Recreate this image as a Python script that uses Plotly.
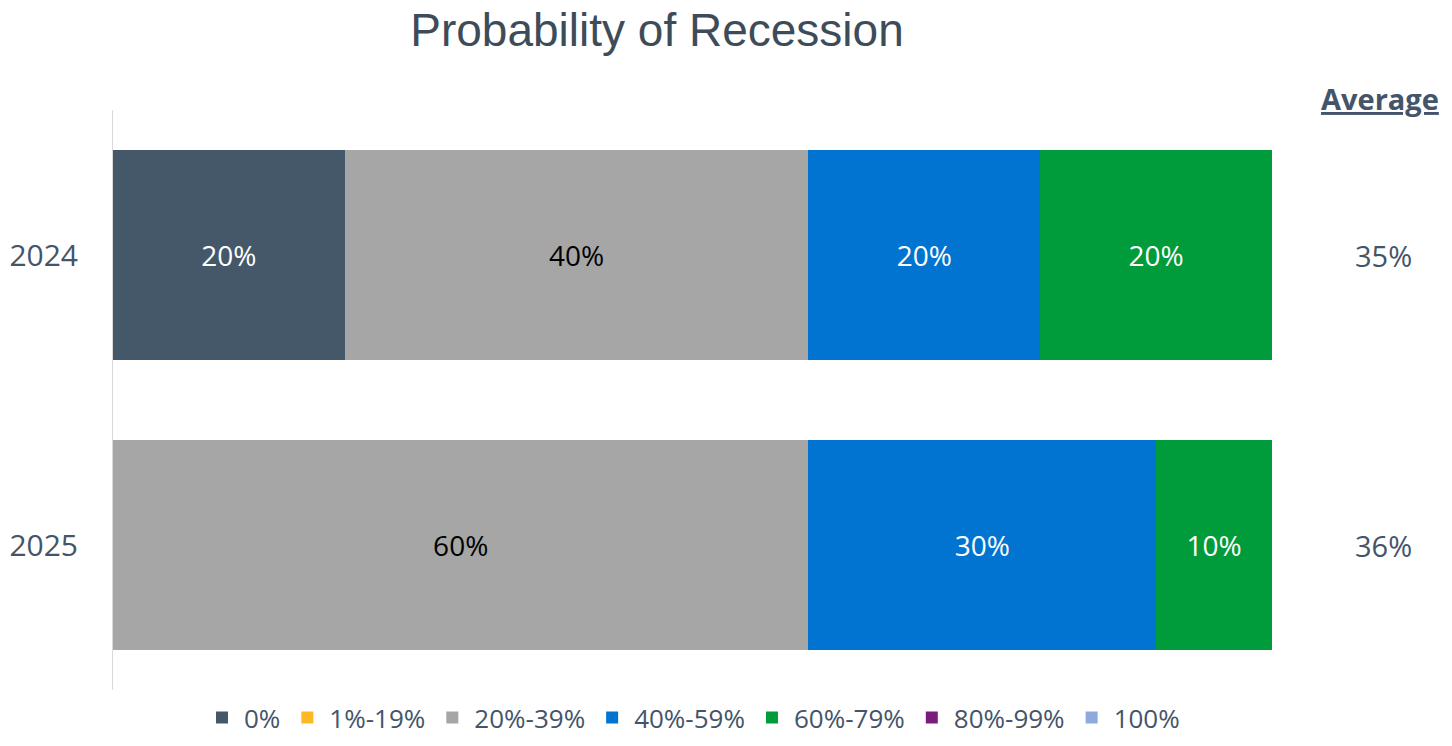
import plotly.graph_objects as go

years = ["2024", "2025"]
series_names = ["0%", "1%-19%", "20%-39%", "40%-59%", "60%-79%", "80%-99%", "100%"]
values = {
    "0%": [20, 0],
    "1%-19%": [0, 0],
    "20%-39%": [40, 60],
    "40%-59%": [20, 30],
    "60%-79%": [20, 10],
    "80%-99%": [0, 0],
    "100%": [0, 0],
}
averages = ["35%", "36%"]

colors = {
    "0%": "#44586A",
    "1%-19%": "#FDB924",
    "20%-39%": "#A6A6A6",
    "40%-59%": "#0074D0",
    "60%-79%": "#009B3A",
    "80%-99%": "#7A1C79",
    "100%": "#8EA9DB",
}
text_colors = {
    "0%": "white", "1%-19%": "black", "20%-39%": "black", "40%-59%": "white",
    "60%-79%": "white", "80%-99%": "white", "100%": "black",
}

# page body has an 8px default margin, so the figure is drawn 8px in from the top-left
OFF = 8
W, H = 1452 - 2 * OFF, 746 - 2 * OFF
PL, PR, PT, PB = 113, 1272, 110, 690  # plot area in screenshot pixels

fig = go.Figure()
for name in series_names:
    vals = values[name]
    fig.add_trace(go.Bar(
        name=name,
        y=years,
        x=vals,
        orientation="h",
        marker=dict(color=colors[name], line=dict(width=0)),
        text=[f"{v}%" if v > 0 else "" for v in vals],
        textposition="inside",
        insidetextanchor="middle",
        textangle=0,
        textfont=dict(family="Open Sans", size=28, color=text_colors[name]),
        hoverinfo="skip",
    ))

fig.update_layout(
    barmode="stack",
    bargap=0.276,
    width=W, height=H,
    margin=dict(l=PL - OFF, r=W - (PR - OFF), t=PT - OFF, b=H - (PB - OFF), autoexpand=False),
    paper_bgcolor="white",
    plot_bgcolor="white",
    title=dict(
        text="Probability of Recession",
        x=(657 - OFF) / W, xanchor="center",
        y=1 - (30 - OFF) / H, yanchor="middle",
        font=dict(family="Liberation Sans", size=46, color="#3E4C5A"),
    ),
    xaxis=dict(range=[0, 100], showgrid=False, zeroline=False, showticklabels=False,
               showline=False, fixedrange=True, automargin=False),
    yaxis=dict(type="category", categoryorder="array", categoryarray=years,
               range=[1.5, -0.5], showgrid=False, zeroline=False,
               showline=True, linecolor="#D9D9D9", linewidth=1, automargin=False,
               ticks="", ticklabelstandoff=28,
               tickfont=dict(family="Open Sans", size=30, color="#44546A")),
    legend=dict(
        orientation="h", x=0.5, xanchor="center",
        y=-(735 - 690) / 580 + 0.03, yanchor="middle",
        font=dict(family="Open Sans", size=26, color="#44546A"),
        traceorder="normal", itemwidth=34,
    ),
    showlegend=True,
)

fig.add_annotation(
    text="<b><u>Average</u></b>", xref="paper", yref="paper",
    x=(1380 - PL) / (PR - PL), y=(PB - 99) / (PB - PT), xanchor="center", yanchor="middle",
    showarrow=False, font=dict(family="Open Sans", size=29, color="#44546A"),
)
for i, avg in enumerate(averages):
    fig.add_annotation(
        text=avg, xref="paper", yref="y", x=(1383 - PL) / (PR - PL), y=i,
        xanchor="center", yanchor="middle", showarrow=False,
        font=dict(family="Open Sans", size=29, color="#44546A"),
    )

fig.write_html("out.html")
